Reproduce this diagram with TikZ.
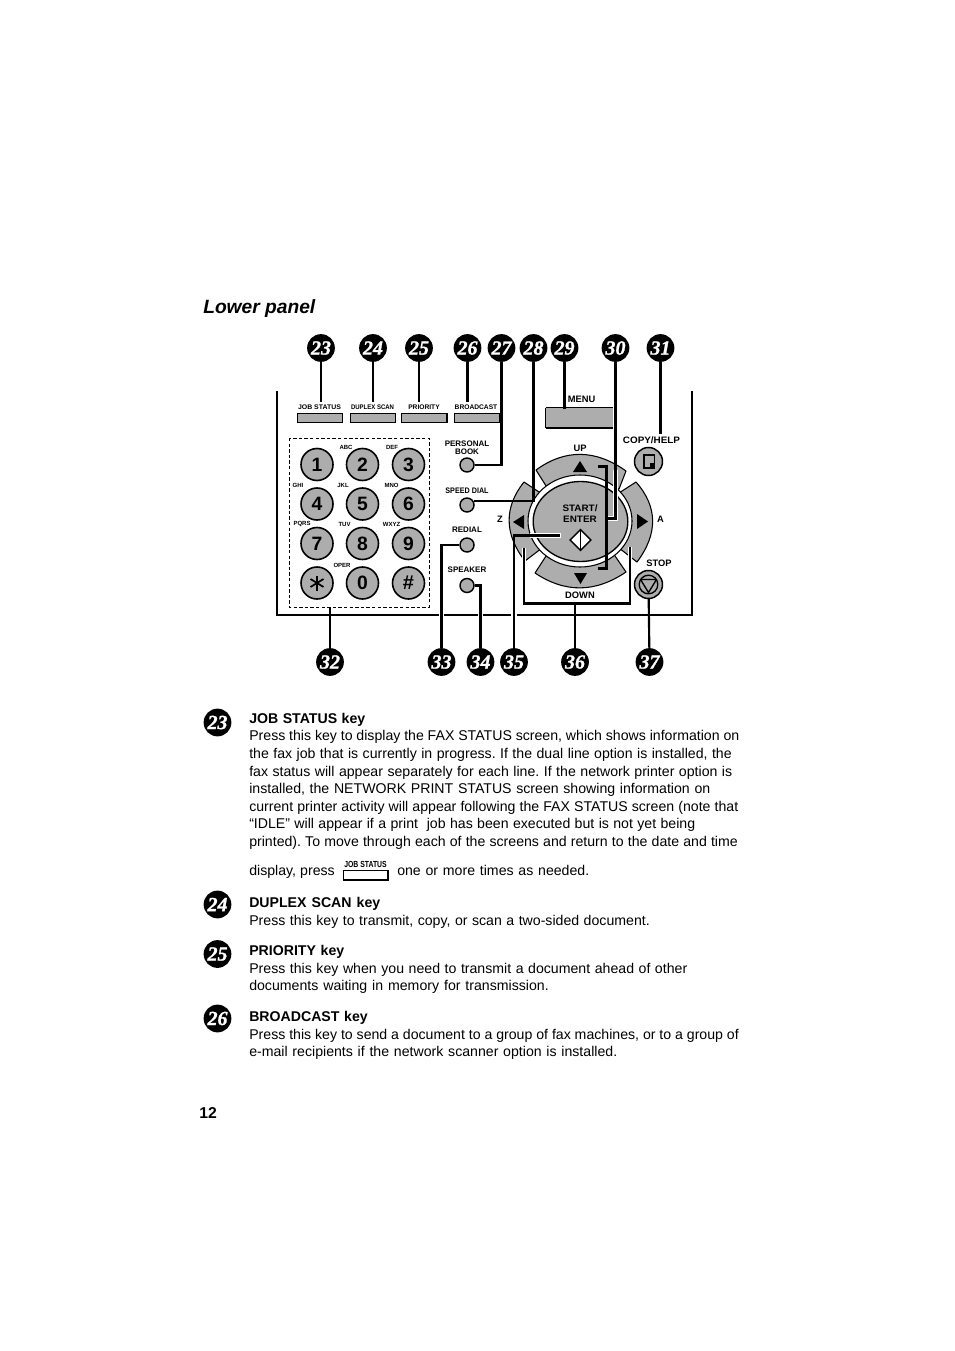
\documentclass[tikz,border=0pt]{standalone}
\usepackage{fontspec}
\setmainfont{Liberation Sans}
\newfontfamily\badgefont[BoldItalicFeatures={FakeBold=1.2}]{Liberation Serif}
\usetikzlibrary{shapes.geometric,calc}
\newcommand{\fsz}[1]{\fontsize{#1}{#1}\selectfont}
\definecolor{keygrey}{gray}{0.68}
\tikzset{
 badge/.style={circle,fill=black,text=white,minimum size=20.8pt,inner sep=0pt,font=\badgefont\bfseries\itshape\fsz{15}},
 leader/.style={line width=1.6pt,line cap=butt,line join=miter},
 halo/.style={line width=3.2pt,white},
 frameline/.style={line width=1.3pt},
 topkey/.style={draw=black,line width=.6pt,fill=keygrey,minimum width=33.6pt,minimum height=6.6pt,inner sep=0pt},
 numkey/.style={circle,draw=black,line width=1.2pt,fill=keygrey,minimum size=24pt,inner sep=0pt,font=\bfseries\fsz{14.5}},
 smallbtn/.style={circle,draw=black,line width=1.1pt,fill=keygrey,minimum size=10.5pt,inner sep=0pt},
 roundbtn/.style={circle,draw=black,line width=1.1pt,fill=keygrey,minimum size=21pt,inner sep=0pt},
 arrowkey/.style={draw=black,line width=.8pt,fill=keygrey,line join=round},
 arrowtip/.style={fill=black,draw=none},
 keylab/.style={inner sep=0pt,font=\bfseries\fsz{5}},
 btnlab/.style={inner sep=0pt,font=\bfseries\fsz{6}},
 padlab/.style={inner sep=0pt,font=\bfseries\fsz{4.5}},
 panlab/.style={inner sep=0pt,font=\bfseries\fsz{7}},
 body/.style={anchor=base west,inner sep=0pt,font=\fsz{10.6}},
 head/.style={anchor=base west,inner sep=0pt,font=\bfseries\fsz{10.6}},
}
% one line of the description: start x, baseline y, end x, all in picture units
\newcommand{\bline}[4][body]{\node[#1] at (249,#2) {\makebox[\dimexpr #3pt*3/4-186.75pt\relax][s]{#4}};}
\begin{document}
\frenchspacing
\begin{tikzpicture}[x=0.75pt,y=-0.75pt]
\useasboundingbox (0,0) rectangle (954,1351);
\fill[white] (0,0) rectangle (954,1351);

% title
\node[anchor=base west,inner sep=0pt,font=\bfseries\itshape\fsz{14.4}] (title) at (203,313.5) {Lower panel};

% frame
\coordinate (ftl) at (277,391); \coordinate (fbl) at (277,615);
\coordinate (fbr) at (692,615); \coordinate (ftr) at (692,391);
\draw[frameline] (ftl) -- (fbl) -- (fbr) -- (ftr);

% arrow keys
\path[arrowkey] (536,470) .. controls (565,449) and (595,449) .. (626,471) -- (619,489) -- (548,489) -- cycle;
\path[arrowkey] (535,573) .. controls (565,593) and (595,593) .. (626,572) -- (613,553) -- (548,553) -- cycle;
\path[arrowkey] (524,482) .. controls (504,507) and (504,534) .. (525,561) -- (542,548) -- (542,494) -- cycle;
\path[arrowkey] (636,482) .. controls (658,507) and (658,534) .. (637,562) -- (619,548) -- (619,493) -- cycle;
\draw[line width=.8pt,fill=white] (580,521) ellipse [x radius=52,y radius=46];
\node[ellipse,draw=black,line width=1pt,fill=keygrey,minimum width=71pt,minimum height=60pt,inner sep=0pt] (start) at (580.5,521.5) {};
\path[arrowtip] (573,472) -- (587,472) -- (580,461) -- cycle;
\path[arrowtip] (574,573) -- (587,573) -- (580.5,584) -- cycle;
\path[arrowtip] (524,515) -- (524,529) -- (513,522) -- cycle;
\path[arrowtip] (637,514) -- (637,529) -- (648,521.5) -- cycle;

% start icon
\node[diamond,draw=black,line width=1pt,fill=white,minimum size=16pt,inner sep=0pt] (startico) at (580.5,540) {};
\draw[line width=1.3pt] (startico.north) -- (startico.south);

% top keys
\node[topkey] (kjob) at (319.5,417.5) {};
\node[topkey] (kdup) at (372.5,417.5) {};
\node[topkey] (kpri) at (424,417.5) {};
\node[topkey] (kbro) at (476.5,417.5) {};
\foreach \k in {kjob,kdup,kpri,kbro}{\draw[line width=1.1pt] (\k.south west) -- (\k.south east) -- (\k.north east);}
\node[keylab,xscale=1.04] at (319.5,407.5) {JOB STATUS};
\node[keylab,xscale=.9] at (372.5,407.5) {DUPLEX SCAN};
\node[keylab] at (424,407.5) {PRIORITY};
\node[keylab] at (476,407.5) {BROADCAST};

% menu key
\node[draw=none,fill=keygrey,minimum width=50.2pt,minimum height=15pt,inner sep=0pt] (kmenu) at (579.5,418) {};
\draw[line width=.5pt] (kmenu.north west) -- (kmenu.north east);
\draw[line width=.5pt] (kmenu.north west) -- (kmenu.south west);
\draw[line width=1.4pt] (kmenu.south west) -- (kmenu.south east);
\node[panlab] at (581.5,399) {MENU};

% keypad
\draw[line width=.6pt,dash pattern=on 2.6pt off 1.6pt] (289,438) rectangle (429,607);
\node[numkey] (n1) at (317,464.5) {1};
\node[numkey] (n2) at (362.5,464.5) {2};
\node[numkey] (n3) at (408.5,464.5) {3};
\node[numkey] (n4) at (317,504) {4};
\node[numkey] (n5) at (362.5,504) {5};
\node[numkey] (n6) at (408.5,504) {6};
\node[numkey] (n7) at (317,543.5) {7};
\node[numkey] (n8) at (362.5,543.5) {8};
\node[numkey] (n9) at (408.5,543.5) {9};
\node[numkey] (nstar) at (317,583) {};
\node[numkey] (n0) at (362.5,583) {0};
\node[numkey] (nhash) at (408.5,583) {\fsz{15}\#};
\draw[line width=1.3pt] (317,575.5) -- (317,590.5);
\draw[line width=1.3pt] (310.5,579) -- (323.5,587);
\draw[line width=1.3pt] (310.5,587) -- (323.5,579);
\node[padlab] at (346,447) {ABC};
\node[padlab] at (392,447) {DEF};
\node[padlab] at (298,485) {GHI};
\node[padlab] at (343,485) {JKL};
\node[padlab] at (391.5,485) {MNO};
\node[padlab] at (302,524) {PQRS};
\node[padlab] at (344.5,524) {TUV};
\node[padlab] at (391.5,524) {WXYZ};
\node[padlab] at (342,565) {OPER};

% small buttons
\node[smallbtn] (bpb) at (467,465) {};
\node[smallbtn] (bsd) at (467,505) {};
\node[smallbtn] (brd) at (467,545) {};
\node[smallbtn] (bsp) at (467,585.5) {};
\node[btnlab] at (467,444) {PERSONAL};
\node[btnlab] at (467,452) {BOOK};
\node[btnlab,xscale=.9] at (467,491) {SPEED DIAL};
\node[btnlab] at (467,530) {REDIAL};
\node[btnlab] at (467,570) {SPEAKER};

% round buttons
\node[roundbtn] (bcopy) at (648.5,461.5) {};
\node[roundbtn] (bstop) at (648.5,584.5) {};
\draw[line width=1pt,fill=keygrey] (644,455) rectangle (654.5,468);
\fill (650,463) rectangle (654.5,468);
\draw[line width=1pt,fill=keygrey] (648.5,584.5) circle [radius=9.3];
\draw[line width=1pt,line join=round] (640.5,579.5) -- (656.5,579.5) -- (648.5,592.5) -- cycle;

% panel labels
\node[panlab,xscale=1.06] at (651.5,440) {COPY/HELP};
\node[panlab] at (580,448) {UP};
\node[panlab] at (580,595) {DOWN};
\node[panlab] at (500,519.5) {Z};
\node[panlab] at (660.5,519.5) {A};
\node[panlab] at (659,563) {STOP};
\node[panlab,xscale=1.06] at (580,508) {START/};
\node[panlab,xscale=1.06] at (580,519.5) {ENTER};

% badges
\node[badge] (b23) at (321,348) {23};
\node[badge] (b24) at (373,348) {24};
\node[badge] (b25) at (419,348) {25};
\node[badge] (b26) at (467.5,348) {26};
\node[badge] (b27) at (501.5,348) {27};
\node[badge] (b28) at (533.5,348) {28};
\node[badge] (b29) at (564.5,348) {29};
\node[badge] (b30) at (615.5,348) {30};
\node[badge] (b31) at (660.5,348) {31};
\node[badge] (b32) at (330,662) {32};
\node[badge] (b33) at (441.5,662) {33};
\node[badge] (b34) at (480.5,662) {34};
\node[badge] (b35) at (514,662) {35};
\node[badge] (b36) at (575,662) {36};
\node[badge] (b37) at (649.5,662) {37};

% connector targets
\coordinate (t23) at (321,402); \coordinate (t24) at (373,402);
\coordinate (t25) at (419,402); \coordinate (t26) at (467.5,402);
\coordinate (t29) at (564.5,409);
\coordinate (t31) at (660.5,434);
\coordinate (t32) at (330,607);
\coordinate (t36) at (575,603.5);
\coordinate (t35) at (560,535.5);
\coordinate (t30) at (606.5,518.5);
\coordinate (br1) at (598,466.5); \coordinate (br2) at (606.5,466.5);
\coordinate (br3) at (606.5,568.5); \coordinate (br4) at (598,568.5);
\coordinate (d1) at (524,548); \coordinate (d2) at (524,603.5);
\coordinate (d3) at (630,603.5); \coordinate (d4) at (630,547);

% gaps in the frame
\fill[white] (438.8,612) rectangle (444.2,618);
\fill[white] (477.8,612) rectangle (483.2,618);
\fill[white] (511.3,612) rectangle (516.7,618);

% leaders
\draw[leader,line width=1.9pt] (b23) -- (t23);
\draw[leader] (b24) -- (t24);
\draw[leader] (b25) -- (t25);
\draw[leader] (b26) -- (t26);
\draw[leader] (b27) |- (bpb);
\draw[leader] (b28) |- (bsd.30);
\draw[leader] (b29) -- (t29);
\draw[halo] (615.5,470) -- (615.5,518.5) -- (t30);
\draw[leader] (b30) |- (t30);
\draw[leader] (br1) -- (br2) -- (br3) -- (br4);
\draw[leader,line width=1.9pt] (b31) -- (t31);
\draw[leader,line width=1.9pt] (b32) -- (t32);
\draw[leader] (b33) |- (brd);
\draw[leader] (b34) |- (bsp);
\draw[halo] (530,535.5) -- (561,535.5);
\draw[leader] (b35) |- (t35);
\draw[leader] (b36) -- (t36);
\draw[halo] (d1) -- (d2);
\draw[halo] (d3) -- (d4);
\draw[leader] (d1) -- (d2) -- (d3) -- (d4);
\draw[leader] (b37) -- (bstop);

% description
\node[badge] (d23) at (217.5,722.5) {23};
\node[badge] (d24) at (217.5,904.5) {24};
\node[badge] (d25) at (217.5,954) {25};
\node[badge] (d26) at (217.5,1018.5) {26};

\bline[head]{723}{365}{JOB STATUS key}
\bline{740}{739}{Press this key to display the FAX STATUS screen, which shows information on}
\bline{758}{731.5}{the fax job that is currently in progress. If the dual line option is installed, the}
\bline{776}{732}{fax status will appear separately for each line. If the network printer option is}
\bline{793}{710}{installed, the NETWORK PRINT STATUS screen showing information on}
\bline{811}{738}{current printer activity will appear following the FAX STATUS screen (note that}
\bline{828.5}{695}{“IDLE” will appear if a print\ \ job has been executed but is not yet being}
\bline{846}{737.5}{printed). To move through each of the screens and return to the date and time}
\bline{875}{334.5}{display, press}
\node[draw=black,line width=.7pt,fill=white,minimum width=33.6pt,minimum height=7pt,inner sep=0pt] (kinline) at (365.5,875) {};
\draw[line width=1.4pt] (kinline.south west) -- (kinline.south east) -- (kinline.north east);
\node[inner sep=0pt,font=\bfseries\fsz{6.6},xscale=.78] at (365.5,864) {JOB STATUS};
\node[body] at (397,875) {\makebox[144pt][s]{one or more times as needed.}};

\bline[head]{907}{380}{DUPLEX SCAN key}
\bline{925}{649.5}{Press this key to transmit, copy, or scan a two-sided document.}
\bline[head]{955}{344}{PRIORITY key}
\bline{973}{687}{Press this key when you need to transmit a document ahead of other}
\bline{990}{548.5}{documents waiting in memory for transmission.}
\bline[head]{1021}{367.5}{BROADCAST key}
\bline{1039}{738.5}{Press this key to send a document to a group of fax machines, or to a group of}
\bline{1056}{617}{e-mail recipients if the network scanner option is installed.}

\node[anchor=base west,inner sep=0pt,font=\bfseries\fsz{11.8}] at (199,1118) {12};
\end{tikzpicture}
\end{document}
